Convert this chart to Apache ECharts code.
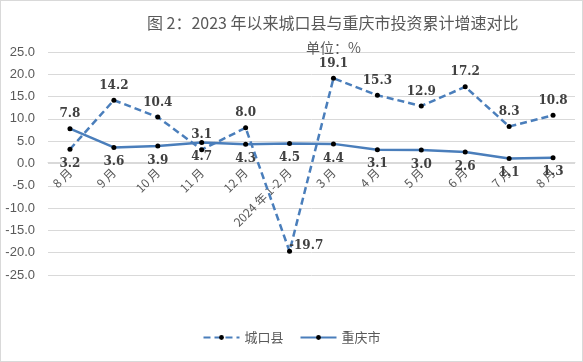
<!DOCTYPE html>
<html><head><meta charset="utf-8">
<script src="https://cdn.jsdelivr.net/npm/echarts@6/dist/echarts.min.js"></script>
<style>html,body{margin:0;padding:0;background:#fff}#c{width:583px;height:362px;box-sizing:border-box;border:1px solid #d9d9d9}</style>
</head><body><div id="c"></div>
<script>
const categories = ['8 月','9 月','10 月','11 月','12 月','2024 年 1-2 月','3 月','4 月','5 月','6 月','7 月','8 月'];
const chengkou = [3.2, 14.2, 10.4, 3.1, 8.0, -19.7, 19.1, 15.3, 12.9, 17.2, 8.3, 10.8];
const chongqing = [7.8, 3.6, 3.9, 4.7, 4.3, 4.5, 4.4, 3.1, 3.0, 2.6, 1.1, 1.3];
const yTicks = [-25, -20, -15, -10, -5, 0, 5, 10, 15, 20, 25];

const chart = echarts.init(document.getElementById('c'));
const lblFont = {fontFamily:'DejaVu Serif', fontWeight:'bold', fontSize:12, color:'#404040'};
const blue = '#4a7ebb';
const gridTop = 51, gridBottom = 86, H = 362;
const plotH = H - gridTop - gridBottom;
const yMin = yTicks[0], yMax = yTicks[yTicks.length-1];
const zeroOffset = -plotH * (0 - yMin) / (yMax - yMin);
chart.setOption({
  animation:false,
  title:[
    {text:'图 2：2023 年以来城口县与重庆市投资累计增速对比', left:141, top:9,
     textStyle:{fontFamily:'Noto Sans CJK SC', fontSize:16, fontWeight:'normal', color:'#595959'}},
    {text:'单位：%', left:300, top:35,
     textStyle:{fontFamily:'Noto Sans CJK SC', fontSize:14, fontWeight:'normal', color:'#595959'}}
  ],
  grid:{left:47, right:7, top:gridTop, bottom:gridBottom},
  legend:{bottom:12, left:'center', itemWidth:36, itemHeight:6, itemGap:16,
    textStyle:{fontFamily:'Noto Sans CJK SC', fontSize:13, color:'#595959'},
    data:['城口县','重庆市']},
  xAxis:{type:'category', data:categories, boundaryGap:true, position:'bottom', offset:zeroOffset,
    axisLine:{onZero:false, lineStyle:{color:'#d9d9d9'}},
    axisTick:{show:false},
    axisLabel:{rotate:45, interval:0, margin:8, fontFamily:'Noto Sans CJK SC', fontSize:12, color:'#595959'}},
  yAxis:{type:'value', min:yMin, max:yMax, interval:5,
    axisLine:{show:false}, axisTick:{show:false},
    splitLine:{lineStyle:{color:'#d9d9d9'}},
    axisLabel:{formatter:v=>v.toFixed(1), fontFamily:'Liberation Sans', fontSize:13, color:'#595959', margin:13}},
  series:[
    {name:'城口县', type:'line', symbol:'circle', symbolSize:5, z:3,
     lineStyle:{color:blue, width:2.5, type:[7,4]},
     itemStyle:{color:'#000'},
     label:{show:true, position:'top', distance:6, formatter:p=>p.value.toFixed(1), ...lblFont},
     data:chengkou.map((v,i)=> i===0 ? {value:v,label:{position:'bottom'}} : (v<0 ? {value:v,label:{position:'right',distance:0,offset:[-3,-5]}} : v))},
    {name:'重庆市', type:'line', symbol:'circle', symbolSize:5, z:2,
     lineStyle:{color:blue, width:2.5},
     itemStyle:{color:'#000'},
     label:{show:true, position:'bottom', distance:6, formatter:p=>p.value.toFixed(1), ...lblFont},
     data:chongqing.map((v,i)=> i===0 ? {value:v,label:{position:'top'}} : v)}
  ]
});
</script></body></html>
